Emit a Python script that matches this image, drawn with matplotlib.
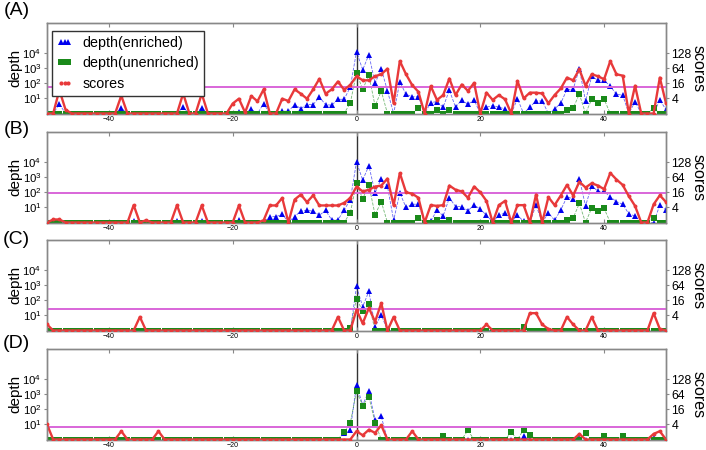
import numpy as np
import matplotlib
matplotlib.use("Agg")
import matplotlib.pyplot as plt
from matplotlib.lines import Line2D

plt.rcParams['font.family'] = ['Liberation Sans', 'DejaVu Sans']
plt.rcParams['mathtext.default'] = 'regular'

positions = list(range(-50, 51))
panel_names = ['(A)', '(B)', '(C)', '(D)']
depth_ticks = [1, 2, 3, 4]
depth_ticklabels = ['$10^{1}$', '$10^{2}$', '$10^{3}$', '$10^{4}$']
score_ticks = [1, 2, 3, 4]
score_ticklabels = ['4', '16', '64', '128']
xticks = [-40, -20, 0, 20, 40]

# log10(depth), positions -50..50
enriched_A = [
    0, 0, 0.63, 0, 0, 0, 0, 0, 0, 0,
    0, 0, 0.35, 0, 0, 0, 0, 0, 0, 0,
    0, 0, 0.4, 0, 0, 0.37, 0, 0, 0, 0,
    0, 0.1, 0, 0.28, 0, 0.66, 0, 0, 0.15, 0.15,
    0.59, 0.33, 0.59, 0.59, 1.09, 0.59, 0.55, 0.94, 0.94, 1.75,
    4.1, 2.9, 3.9, 2.0, 2.97, 1.5, 0, 2.1, 1.27, 1.11,
    1.11, 0, 0.72, 0.79, 0.42, 1.55, 0.42, 0.9, 0.61, 0.9,
    0, 0.42, 0.52, 0.42, 0.3, 0, 0.98, 0, 0.42, 0.83,
    0.83, 0, 0.3, 0.68, 1.6, 1.6, 2.97, 0.83, 2.47, 2.2,
    2.2, 1.81, 1.27, 1.22, 0, 0.79, 0, 0, 0, 0.9,
    0.25]
unenriched_A = [
    0, 0, 0, 0, 0, 0, 0, 0, 0, 0,
    0, 0, 0, 0, 0, 0, 0, 0, 0, 0,
    0, 0, 0, 0, 0, 0, 0, 0, 0, 0,
    0, 0, 0, 0, 0, 0, 0, 0, 0, 0,
    0, 0, 0, 0, 0, 0, 0, 0, 0, 0.7,
    2.69, 1.6, 2.54, 0.5, 1.49, 0, 0, 0, 0, 0,
    0.35, 0, 0, 0.24, 0, 0.24, 0, 0, 0, 0,
    0, 0, 0, 0, 0, 0, 0, 0, 0, 0,
    0, 0, 0, 0, 0.24, 0.35, 1.29, 0, 0.94, 0.68,
    0.94, 0, 0, 0, 0, 0, 0, 0, 0.35, 0,
    0]
scores_A = [
    0, 0, 1.55, 0.25, 0, 0, 0, 0, 0, 0,
    0, 0, 1.18, 0, 0, 0, 0, 0, 0, 0,
    0, 0, 1.33, 0, 0, 1.31, 0, 0, 0, 0,
    0.66, 0.98, 0.07, 1.16, 0.81, 1.6, 0, 0, 0.98, 0.83,
    1.6, 1.31, 0.98, 1.6, 2.3, 1.31, 1.6, 2.12, 1.57, 1.9,
    2.47, 2.2, 2.2, 2.47, 2.6, 2.97, 0.68, 3.48, 2.6, 1.88,
    1.44, 0, 1.81, 0.9, 1.22, 2.32, 1.22, 1.92, 1.5, 2.03,
    0, 1.38, 0.9, 1.22, 0.94, 0, 2.16, 1.0, 1.38, 1.38,
    1.33, 0.68, 1.22, 1.66, 2.38, 2.2, 2.93, 1.84, 2.6, 2.47,
    2.27, 3.48, 2.6, 2.51, 0, 1.84, 0, 0, 0, 2.38,
    0.68]

enriched_B = [
    0, 0, 0, 0, 0, 0, 0, 0, 0, 0,
    0, 0, 0, 0, 0.1, 0, 0, 0, 0, 0,
    0, 0.1, 0, 0, 0, 0.1, 0, 0, 0, 0,
    0, 0.15, 0, 0, 0, 0, 0.39, 0.39, 0.54, 0.04,
    0.39, 0.76, 0.8, 0.76, 0.48, 0.8, 0.17, 0.17, 0.83, 1.5,
    4.02, 2.81, 3.77, 1.96, 2.91, 2.4, 0.15, 1.96, 1.0, 1.21,
    1.21, 0.04, 0.08, 0.83, 0.43, 1.64, 1.06, 1.06, 0.79, 1.15,
    0.89, 0.47, 0.04, 0.47, 0.64, 0.04, 0.47, 0.08, 0, 1.15,
    0, 0.64, 0.15, 0.83, 1.7, 1.57, 2.91, 1.1, 2.45, 2.06,
    2.06, 1.7, 1.38, 1.21, 0.57, 0.43, 0, 0, 0, 1.15,
    0.83]
unenriched_B = [
    0, 0, 0, 0, 0, 0, 0, 0, 0, 0,
    0, 0, 0, 0, 0, 0, 0, 0, 0, 0,
    0, 0, 0, 0, 0, 0, 0, 0, 0, 0,
    0, 0, 0, 0, 0, 0, 0, 0, 0, 0,
    0, 0, 0, 0, 0, 0, 0, 0, 0, 0.65,
    2.6, 1.57, 2.49, 0.51, 1.38, 0, 0, 0, 0, 0,
    0.3, 0, 0, 0.19, 0, 0.19, 0, 0, 0, 0,
    0, 0, 0, 0, 0, 0, 0, 0, 0, 0,
    0, 0, 0, 0, 0.19, 0.3, 1.26, 0, 0.96, 0.79,
    0.94, 0, 0, 0, 0, 0, 0, 0, 0.3, 0,
    0]
scores_B = [
    0, 0.2, 0.2, 0, 0, 0, 0, 0, 0, 0,
    0, 0, 0, 0, 1.15, 0, 0.15, 0, 0, 0,
    0, 1.15, 0, 0, 0, 1.13, 0, 0, 0, 0,
    0, 1.13, 0, 0, 0, 0.15, 1.13, 1.13, 1.63, 0,
    1.52, 1.85, 1.35, 1.8, 1.13, 1.13, 1.13, 1.13, 1.3, 1.63,
    2.38, 2.06, 2.17, 2.38, 2.45, 2.91, 1.15, 3.28, 2.0, 1.91,
    1.64, 0, 1.15, 1.1, 1.15, 2.45, 2.17, 2.06, 1.64, 2.38,
    2.0, 1.43, 0, 1.15, 1.43, 0, 1.15, 1.15, 0, 1.85,
    0, 1.68, 1.15, 1.79, 2.49, 1.79, 2.7, 2.32, 2.6, 2.45,
    2.21, 3.28, 2.85, 2.49, 1.74, 1.1, 0, 0, 1.2, 1.8,
    1.36]

enriched_C = [
    0, 0, 0, 0, 0, 0, 0, 0, 0, 0,
    0, 0, 0, 0, 0, 0, 0, 0, 0, 0,
    0, 0, 0, 0, 0, 0, 0, 0, 0, 0,
    0, 0, 0, 0, 0, 0, 0, 0, 0, 0,
    0, 0, 0, 0, 0, 0, 0, 0, 0, 0,
    2.93, 1.58, 2.6, 0.26, 1.05, 0, 0, 0, 0, 0,
    0, 0, 0, 0, 0, 0, 0, 0, 0, 0,
    0, 0, 0, 0, 0, 0, 0, 0, 0, 0,
    0, 0, 0, 0, 0, 0, 0, 0, 0, 0,
    0, 0, 0, 0, 0, 0, 0, 0, 0, 0,
    0]
unenriched_C = [
    0, 0, 0, 0, 0, 0, 0, 0, 0, 0,
    0, 0, 0, 0, 0, 0, 0, 0, 0, 0,
    0, 0, 0, 0, 0, 0, 0, 0, 0, 0,
    0, 0, 0, 0, 0, 0, 0, 0, 0, 0,
    0, 0, 0, 0, 0, 0, 0, 0, 0, 0.15,
    2.12, 1.28, 1.75, 0, 0, 0, 0, 0, 0, 0,
    0, 0, 0, 0, 0, 0, 0, 0, 0, 0,
    0, 0, 0, 0, 0, 0, 0, 0.25, 0, 0,
    0, 0, 0, 0, 0, 0, 0, 0, 0, 0,
    0, 0, 0, 0, 0, 0, 0, 0, 0, 0,
    0]
scores_C = [
    0.4, 0, 0, 0, 0, 0, 0, 0, 0, 0,
    0, 0, 0, 0, 0, 0.9, 0, 0, 0, 0,
    0, 0, 0, 0, 0, 0, 0, 0, 0, 0,
    0, 0, 0, 0, 0, 0, 0, 0, 0, 0,
    0, 0, 0, 0, 0, 0, 0, 0.9, 0, 0,
    1.37, 0.47, 1.5, 0.58, 1.82, 0, 0.9, 0, 0, 0,
    0, 0, 0, 0, 0, 0, 0, 0, 0, 0,
    0, 0.4, 0, 0, 0, 0, 0, 0, 1.15, 1.15,
    0.4, 0.1, 0, 0, 0.9, 0.4, 0, 0, 0.9, 0,
    0, 0, 0, 0, 0, 0, 0, 0, 1.15, 0.1,
    0]

enriched_D = [
    0, 0, 0, 0, 0, 0, 0, 0, 0, 0,
    0, 0, 0, 0, 0, 0, 0, 0, 0, 0,
    0, 0, 0, 0, 0, 0, 0, 0, 0, 0,
    0, 0, 0, 0, 0, 0, 0, 0, 0, 0,
    0, 0, 0, 0, 0, 0, 0, 0, 0.4, 0.65,
    3.6, 2.3, 3.2, 1.3, 1.53, 0, 0, 0, 0, 0,
    0, 0, 0, 0, 0, 0, 0, 0, 0, 0,
    0, 0, 0, 0, 0, 0, 0, 0.2, 0, 0,
    0, 0, 0, 0, 0, 0, 0.1, 0, 0, 0,
    0, 0, 0, 0, 0, 0, 0, 0, 0.1, 0,
    0]
unenriched_D = [
    0, 0, 0, 0, 0, 0, 0, 0, 0, 0,
    0, 0, 0, 0, 0, 0, 0, 0, 0, 0,
    0, 0, 0, 0, 0, 0, 0, 0, 0, 0,
    0, 0, 0, 0, 0, 0, 0, 0, 0, 0,
    0, 0, 0, 0, 0, 0, 0, 0, 0.5, 1.1,
    3.2, 2.25, 2.84, 1.1, 0, 0, 0, 0, 0, 0,
    0, 0, 0, 0, 0.2, 0, 0, 0, 0.6, 0,
    0, 0, 0, 0, 0, 0.48, 0, 0.65, 0.33, 0,
    0, 0, 0, 0, 0, 0, 0, 0.4, 0, 0,
    0.22, 0, 0, 0.22, 0, 0, 0, 0, 0, 0,
    0]
scores_D = [
    1.0, 0, 0, 0, 0, 0, 0, 0, 0, 0,
    0, 0, 0.55, 0, 0, 0, 0, 0, 0.55, 0,
    0, 0, 0, 0, 0, 0, 0, 0, 0, 0,
    0, 0, 0, 0, 0, 0, 0, 0, 0, 0,
    0, 0, 0, 0, 0, 0, 0, 0, 0, 0,
    0.55, 0.28, 0.65, 0.44, 0.94, 0, 0, 0, 0, 0.55,
    0, 0, 0, 0, 0, 0, 0, 0, 0, 0,
    0, 0, 0, 0, 0, 0, 0, 0, 0, 0,
    0, 0, 0, 0, 0, 0, 0.37, 0, 0, 0,
    0, 0, 0, 0, 0, 0, 0, 0, 0.37, 0.55,
    0]

thresholds = [1.77, 1.96, 1.43, 0.81]

enriched = [enriched_A, enriched_B, enriched_C, enriched_D]
unenriched = [unenriched_A, unenriched_B, unenriched_C, unenriched_D]
scores = [scores_A, scores_B, scores_C, scores_D]

W, H = 706, 450
fig = plt.figure(figsize=(W / 100, H / 100), dpi=100)

ax_left, ax_right = 47, 666
tops = [23, 132, 240, 349]
height = 90.5
label_y = [10.5, 130, 240, 344]

blue = '#0000ee'
green = '#1a8a1a'
red = '#e8393a'
magenta = '#d966d9'
frame = '#888888'

for k in range(4):
    b = 1 - (tops[k] + height) / H
    ax = fig.add_axes([ax_left / W, b, (ax_right - ax_left) / W, height / H])
    ax2 = ax.twinx()
    ax.plot(positions, enriched[k], '--', color=blue, lw=0.6, alpha=0.6, zorder=2)
    ax.plot(positions, enriched[k], '^', color=blue, ms=4.5, mew=0, zorder=3)
    ax.plot(positions, unenriched[k], '--', color=green, lw=0.6, alpha=0.6, zorder=2)
    ax.plot(positions, unenriched[k], 's', color=green, ms=3.8, mew=0, zorder=3)
    ax.axvline(0, color='#333333', lw=1.0, zorder=1)
    ax2.axhline(thresholds[k], color=magenta, lw=1.4, zorder=1)
    ax2.plot(positions, scores[k], '-', color=red, lw=1.7, zorder=2)
    ax2.plot(positions, scores[k], 'o', color=red, ms=2.8, mew=0, zorder=3)
    for a in (ax, ax2):
        a.set_xlim(-50, 50)
        a.set_ylim(0, 6)
        for s in a.spines.values():
            s.set_color(frame)
            s.set_linewidth(1.0)
    ax.set_xticks(xticks)
    ax.set_xticklabels([str(t).replace('-', '\u2212') for t in xticks], fontsize=5)
    ax.set_yticks(depth_ticks)
    ax.set_yticklabels(depth_ticklabels, fontsize=8.2)
    ax2.set_yticks(score_ticks)
    ax2.set_yticklabels(score_ticklabels, fontsize=8.8)
    ax.tick_params(axis='x', direction='in', top=True, length=3, pad=1.5, color=frame)
    ax.tick_params(axis='y', direction='out', length=2.5, pad=1.5, color=frame)
    ax2.tick_params(axis='y', direction='out', length=2.5, pad=1.5, color=frame)
    ax.set_ylabel('depth', fontsize=11, va='center')
    ax.yaxis.set_label_coords((15 - ax_left) / (ax_right - ax_left), 0.5)
    ax2.set_ylabel('scores', fontsize=11.5, rotation=270, va='center')
    ax2.yaxis.set_label_coords((698 - ax_left) / (ax_right - ax_left), 0.5)
    fig.text(16.5 / W, 1 - label_y[k] / H, panel_names[k], fontsize=14,
             ha='center', va='center')
    if k == 0:
        handles = [
            Line2D([], [], ls='none', marker='^', color=blue, ms=5, mew=0),
            Line2D([], [], ls='none', marker='s', color=green, ms=4.5, mew=0),
            Line2D([], [], ls='none', marker='o', color=red, ms=3, mew=0),
        ]
        leg = ax2.legend(handles, ['depth(enriched)', 'depth(unenriched)', 'scores'],
                         loc='upper left', numpoints=3, fontsize=10.3, fancybox=False,
                         framealpha=1, edgecolor='#333333', borderaxespad=0.25,
                         handlelength=1.1, handletextpad=0.7, labelspacing=0.45,
                         borderpad=0.35, bbox_to_anchor=(0.002, 0.955))
        leg.get_frame().set_linewidth(1.0)

fig.savefig('out.png', dpi=100)
